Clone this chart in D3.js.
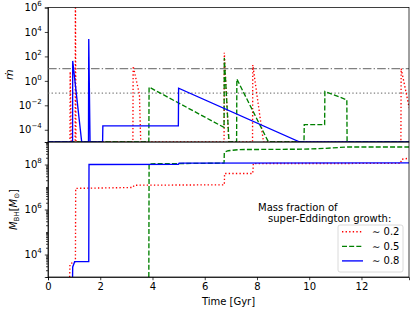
<!DOCTYPE html>
<html>
<head>
<meta charset="utf-8">
<script src="https://cdn.jsdelivr.net/npm/d3@7"></script>
<style>
  body { margin: 0; background: #fff; }
  svg { display: block; font-family: "DejaVu Sans", sans-serif; }
</style>
</head>
<body>
<svg id="chart" width="416" height="311"></svg>
<script>
// accretion rate, [time in Gyr, mdot]; 0 means no accretion (drawn at the axis floor)
const mdotRed = [[0, 0], [0.84, 0], [0.85, 5.8], [0.89, 0], [1.04, 0], [1.05, 1e7], [1.07, 0],
    [3.25, 0], [3.26, 16], [3.5, 0.08], [3.55, 0], [6.74, 0], [6.75, 200], [6.92, 0],
    [7.83, 0], [7.84, 20], [8.25, 0], [13.51, 0], [13.52, 10], [13.83, 0.006]];
const mdotGreen = [[0, 0], [3.86, 0], [3.87, 0.31], [6.74, 1.55e-4], [6.75, 75], [6.93, 0],
    [7.22, 0], [7.23, 1.4], [8.44, 0], [9.8, 0], [9.81, 2.6e-4], [10.59, 2.6e-4],
    [10.6, 0.135], [11.44, 0.028], [11.45, 0], [13.83, 0]];
const mdotBlue = [[0, 0], [0.94, 0], [0.946, 43], [1.29, 0], [1.55, 0], [1.56, 2700], [1.61, 0],
    [2.09, 0], [2.1, 2.1e-4], [4.99, 2.1e-4], [5.0, 0.25], [9.64, 0], [13.83, 0]];

// black hole mass, [time in Gyr, M_BH in Msun]
const massRed = [[0.83, 0], [0.84, 3.7e3], [1.0, 4.8e3], [1.05, 4.8e3], [1.06, 8.7e6],
    [3.25, 9.5e6], [3.3, 1.2e7], [6.75, 1.25e7], [6.76, 4e7], [7.84, 4e7], [7.86, 1.1e8],
    [13.5, 1.12e8], [13.53, 1.7e8], [13.83, 1.9e8]];
const massGreen = [[3.86, 0], [3.87, 1.07e8], [4.99, 1.1e8], [6.74, 1.15e8], [6.75, 3.5e8],
    [6.9, 4.1e8], [7.3, 4.6e8], [9.8, 4.8e8], [10.6, 5.2e8], [11.45, 6.0e8], [13.83, 6.0e8]];
const massBlue = [[0.94, 0], [0.946, 2.8e3], [1.02, 4.8e3], [1.56, 4.8e3], [1.57, 1.0e8],
    [4.99, 1.02e8], [5.02, 1.15e8], [13.83, 1.18e8]];

const refLines = [10, 0.1];               // dash-dot, dotted
const xTicks = [0, 2, 4, 6, 8, 10, 12];
const topTicks = [-4, -2, 0, 2, 4, 6];    // exponents
const botTicks = [4, 6, 8];
const legendLabels = ["∼ 0.2", "∼ 0.5", "∼ 0.8"];

const styles = [
    { color: "#ff0000", dash: "1.35,2.23" },
    { color: "#008000", dash: "5,2.16" },
    { color: "#0000ff", dash: null }
];

const svg = d3.select("#chart");
const L = 48, R = 409, T = 7.5, MID = 142, B = 277;
const FS = 10;

let x = d3.scaleLinear().domain([0, 13.82]).range([L, R]);
let yTop = d3.scaleLog().domain([1e-5, 1e6]).range([MID, T]);
let yBot = d3.scaleLog().domain([1e3, 1e9]).range([B, MID]);

/* clip paths */
let defs = svg.append("defs");
defs.append("clipPath").attr("id", "clipTop").append("rect")
    .attr("x", L).attr("y", T).attr("width", R - L).attr("height", MID - T);
defs.append("clipPath").attr("id", "clipBot").append("rect")
    .attr("x", L).attr("y", MID).attr("width", R - L).attr("height", B - MID);

function supLabel(sel, exps) {
    sel.selectAll(".tick text").each(function (d, i) {
        let t = d3.select(this).text(null);
        t.append("tspan").text("10");
        t.append("tspan").attr("dy", -5).attr("font-size", 7)
            .text(String(exps[i]).replace("-", "−"));
    });
}

/* top panel */
let topG = svg.append("g");
let topAxis = topG.append("g")
    .attr("transform", `translate(${L},0)`)
    .call(d3.axisLeft(yTop).tickValues(topTicks.map(e => Math.pow(10, e)))
        .tickSize(3.2).tickPadding(3));
supLabel(topAxis, topTicks);

let plotTop = topG.append("g").attr("clip-path", "url(#clipTop)");
plotTop.append("line").attr("x1", L).attr("x2", R)
    .attr("y1", yTop(refLines[0])).attr("y2", yTop(refLines[0]))
    .attr("stroke", "#808080").attr("stroke-width", 1.35)
    .attr("stroke-dasharray", "8.64,2.16,1.35,2.16");
plotTop.append("line").attr("x1", L).attr("x2", R)
    .attr("y1", yTop(refLines[1])).attr("y2", yTop(refLines[1]))
    .attr("stroke", "#808080").attr("stroke-width", 1.35)
    .attr("stroke-dasharray", "1.35,2.23");

let lineTop = d3.line().x(d => x(d[0])).y(d => d[1] > 0 ? yTop(d[1]) : yTop(1e-5));
[mdotRed, mdotGreen, mdotBlue].forEach((s, i) => {
    plotTop.append("path").attr("d", lineTop(s))
        .attr("fill", "none").attr("stroke", styles[i].color)
        .attr("stroke-width", 1.35)
        .attr("stroke-dasharray", styles[i].dash);
});

/* bottom panel */
let botG = svg.append("g");
let minors = [];
for (let e = 3; e < 9; e++) {
    for (let k = 2; k <= 9; k++) minors.push(k * Math.pow(10, e));
    if (e % 2 == 1) minors.push(Math.pow(10, e));
}
botG.append("g").attr("transform", `translate(${L},0)`)
    .call(d3.axisLeft(yBot).tickValues(minors).tickSize(2).tickFormat(""))
    .call(g => g.select(".domain").remove());
let botAxis = botG.append("g")
    .attr("transform", `translate(${L},0)`)
    .call(d3.axisLeft(yBot).tickValues(botTicks.map(e => Math.pow(10, e)))
        .tickSize(3.2).tickPadding(3));
supLabel(botAxis, botTicks);

botG.append("g").attr("transform", `translate(0,${B})`)
    .call(d3.axisBottom(x).tickValues(xTicks).tickSize(3.2).tickPadding(3));

let plotBot = botG.append("g").attr("clip-path", "url(#clipBot)");
let lineBot = d3.line().x(d => x(d[0])).y(d => d[1] > 0 ? yBot(d[1]) : yBot(1e3));
[massRed, massGreen, massBlue].forEach((s, i) => {
    plotBot.append("path").attr("d", lineBot(s))
        .attr("fill", "none").attr("stroke", styles[i].color)
        .attr("stroke-width", 1.35)
        .attr("stroke-dasharray", styles[i].dash);
});

svg.selectAll(".tick text").attr("font-size", FS).attr("fill", "#000")
    .style("font-family", "'DejaVu Sans', sans-serif");
svg.selectAll(".domain").attr("stroke-width", 0.75);
svg.selectAll(".tick line").attr("stroke-width", 0.75);

/* frames */
[[T, MID], [MID, B]].forEach(([a, b]) => {
    svg.append("rect").attr("x", L).attr("y", a).attr("width", R - L).attr("height", b - a)
        .attr("fill", "none").attr("stroke", "#000").attr("stroke-width", 0.75);
});

/* axis labels */
svg.append("text").attr("x", (L + R) / 2).attr("y", 305)
    .attr("text-anchor", "middle").attr("font-size", FS).text("Time [Gyr]");

svg.append("text").attr("transform", `translate(13,${(T + MID) / 2}) rotate(-90)`)
    .attr("text-anchor", "middle").attr("font-size", 11)
    .attr("font-style", "italic").text("ṁ");

let mlab = svg.append("text").attr("transform", `translate(17,${(MID + B) / 2}) rotate(-90)`)
    .attr("text-anchor", "middle").attr("font-size", FS);
mlab.append("tspan").attr("font-style", "italic").text("M");
mlab.append("tspan").attr("font-size", 7).attr("dy", 2).text("BH");
mlab.append("tspan").attr("dy", -2).text("[");
mlab.append("tspan").attr("font-style", "italic").text("M");
mlab.append("tspan").attr("font-size", 7).attr("dy", 2).text("⊙");
mlab.append("tspan").attr("dy", -2).text("]");

/* legend */
svg.append("text").attr("x", 258).attr("y", 210.5).attr("font-size", FS).text("Mass fraction of");
svg.append("text").attr("x", 268).attr("y", 222).attr("font-size", FS).text("super-Eddington growth:");

let leg = svg.append("g");
leg.append("rect").attr("x", 338).attr("y", 225).attr("width", 65).attr("height", 47)
    .attr("rx", 2).attr("fill", "#fff").attr("fill-opacity", 0.8)
    .attr("stroke", "#d0d0d0").attr("stroke-width", 0.8);
legendLabels.forEach((lab, i) => {
    let yy = 231.7 + i * 14.6;
    leg.append("line").attr("x1", 342).attr("x2", 363).attr("y1", yy).attr("y2", yy)
        .attr("stroke", styles[i].color).attr("stroke-width", 1.35)
        .attr("stroke-dasharray", styles[i].dash);
    leg.append("text").attr("x", 372).attr("y", yy + 3.5).attr("font-size", FS).text(lab);
});
</script>
</body>
</html>
